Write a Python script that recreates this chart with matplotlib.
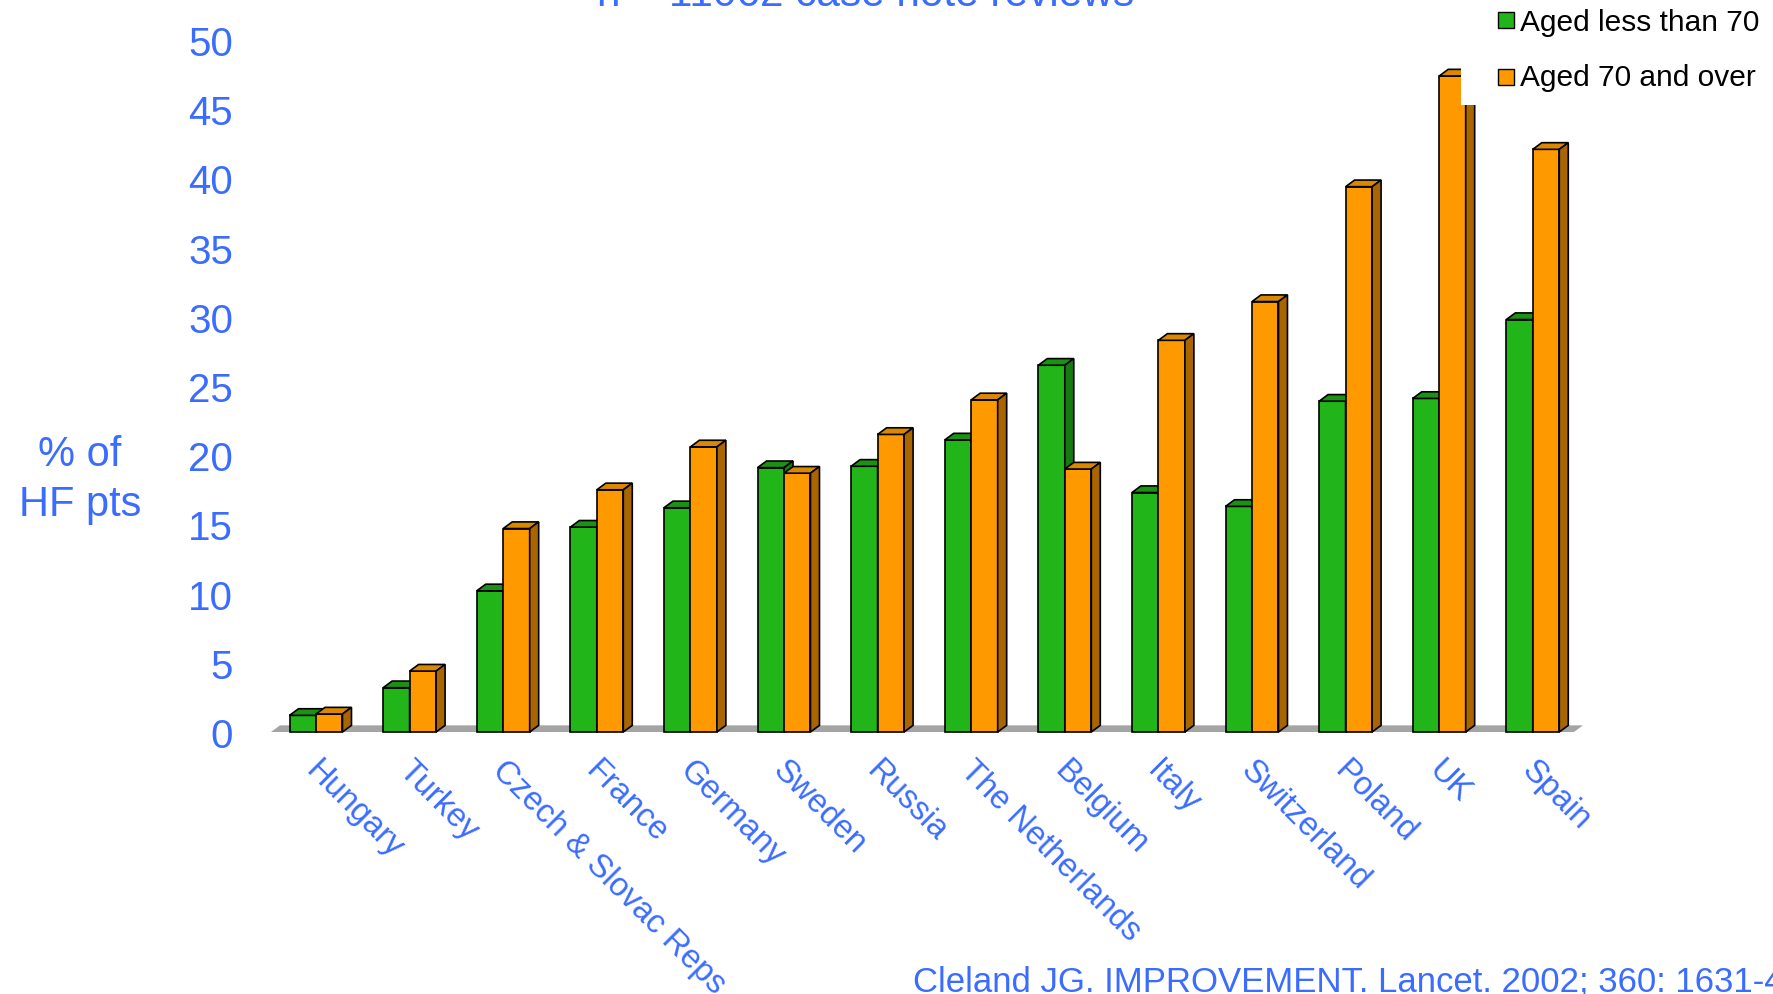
import matplotlib
matplotlib.use("Agg")
import matplotlib.pyplot as plt
from matplotlib.patches import Polygon, Rectangle
import matplotlib.transforms as mtransforms

# ---------------- data ----------------
categories = ["Hungary", "Turkey", "Czech & Slovac Reps", "France", "Germany",
              "Sweden", "Russia", "The Netherlands", "Belgium", "Italy",
              "Switzerland", "Poland", "UK", "Spain"]
under70 = [1.2, 3.2, 10.2, 14.8, 16.2, 19.1, 19.2, 21.1, 26.5, 17.3, 16.3, 23.9, 24.1, 29.8]
over70 = [1.3, 4.4, 14.7, 17.5, 20.6, 18.7, 21.5, 24.0, 19.0, 28.3, 31.1, 39.4, 47.4, 42.1]
yticks = list(range(0, 51, 5))
series_names = ["Aged less than 70", "Aged 70 and over"]
title = "n = 11062 case note reviews"
ylabel = "% of\nHF pts"
citation = "Cleland JG. IMPROVEMENT. Lancet. 2002; 360: 1631-40"

# ---------------- style ----------------
BLUE = "#3a6cff"
GREEN = ("#22b51a", "#1b9214", "#157a0f")     # front, top, side
ORANGE = ("#ff9900", "#d98800", "#a86500")
plt.rcParams["font.family"] = ["Liberation Sans", "DejaVu Sans"]

W, H = 1773, 995
fig = plt.figure(figsize=(W / 100, H / 100), dpi=100)
fig.patch.set_facecolor("white")

# axes placement (pixel based)
ax_left, ax_right = 240, 1600
y_bottom_px, y_top_px = 746.84, 41.0
ax = fig.add_axes([ax_left / W, (H - y_bottom_px) / H,
                   (ax_right - ax_left) / W, (y_bottom_px - y_top_px) / H])
ax.set_xlim(-0.812, 13.718)
ax.set_ylim(-1, 50)
for s in ax.spines.values():
    s.set_visible(False)
ax.patch.set_alpha(0)

bw = 0.283
dx, dy = 0.096, 0.48
x = list(range(len(categories)))

# floor
floor = Polygon([(-0.481, 0), (13.44, 0), (13.44 + dx, dy), (-0.481 + dx, dy)],
                closed=True, facecolor="#a4a4a4", edgecolor="none", zorder=1)
ax.add_patch(floor)

def bars3d(xc, vals, cols, z):
    ax.bar(xc, vals, bw, color=cols[0], edgecolor="black", linewidth=1.2, zorder=z)
    for xi, v in zip(xc, vals):
        l, r = xi - bw / 2, xi + bw / 2
        top = Polygon([(l, v), (r, v), (r + dx, v + dy), (l + dx, v + dy)], closed=True,
                      facecolor=cols[1], edgecolor="black", linewidth=1.2, zorder=z)
        side = Polygon([(r, 0), (r + dx, dy), (r + dx, v + dy), (r, v)], closed=True,
                       facecolor=cols[2], edgecolor="black", linewidth=1.2, zorder=z)
        ax.add_patch(top)
        ax.add_patch(side)

bars3d([i - bw / 2 for i in x], under70, GREEN, 3)
bars3d([i + bw / 2 for i in x], over70, ORANGE, 4)

# y ticks
ax.set_yticks(yticks)
ax.set_yticklabels([str(t) for t in yticks])
ax.tick_params(axis="y", length=0, pad=5, labelsize=29, labelcolor=BLUE)

# x tick labels
ax.set_xticks(x)
ax.set_xticklabels(categories, rotation=-45, ha="left", va="top",
                   rotation_mode="anchor", fontsize=23.5, color=BLUE)
ax.tick_params(axis="x", length=0, pad=6.0)
off = mtransforms.ScaledTranslation(5 / 100, 0, fig.dpi_scale_trans)
for lab in ax.get_xticklabels():
    lab.set_transform(lab.get_transform() + off)

# y label
fig.text(80 / W, 1 - 480 / H, ylabel, ha="center", va="center",
         fontsize=30, color=BLUE, linespacing=1.32)

# title (partly cut off at the top)
fig.text(866 / W, 1 - 6.5 / H, title, ha="center", va="baseline",
         fontsize=30.5, color=BLUE)

# legend box
fig.add_artist(Rectangle((1461 / W, 1 - 105.7 / H), (W - 1461) / W, 105.7 / H,
                         transform=fig.transFigure, facecolor="white",
                         edgecolor="none", zorder=5))
for name, col, (sq_top, base) in zip(series_names, [GREEN[0], ORANGE[0]],
                                     [(13.3, 30.7), (70.0, 85.7)]):
    fig.add_artist(Rectangle((1498 / W, 1 - (sq_top + 16) / H), 16 / W, 16 / H,
                             transform=fig.transFigure, facecolor=col,
                             edgecolor="black", linewidth=1.0, zorder=6))
    fig.text(1520 / W, 1 - base / H, name, ha="left", va="baseline",
             fontsize=21.5, color="black", zorder=6)

# citation (cut off at the right, as in the original slide)
fig.text(913 / W, 1 - 992 / H, citation, ha="left", va="baseline",
         fontsize=25, color=BLUE)

fig.savefig("out.png", dpi=100)
